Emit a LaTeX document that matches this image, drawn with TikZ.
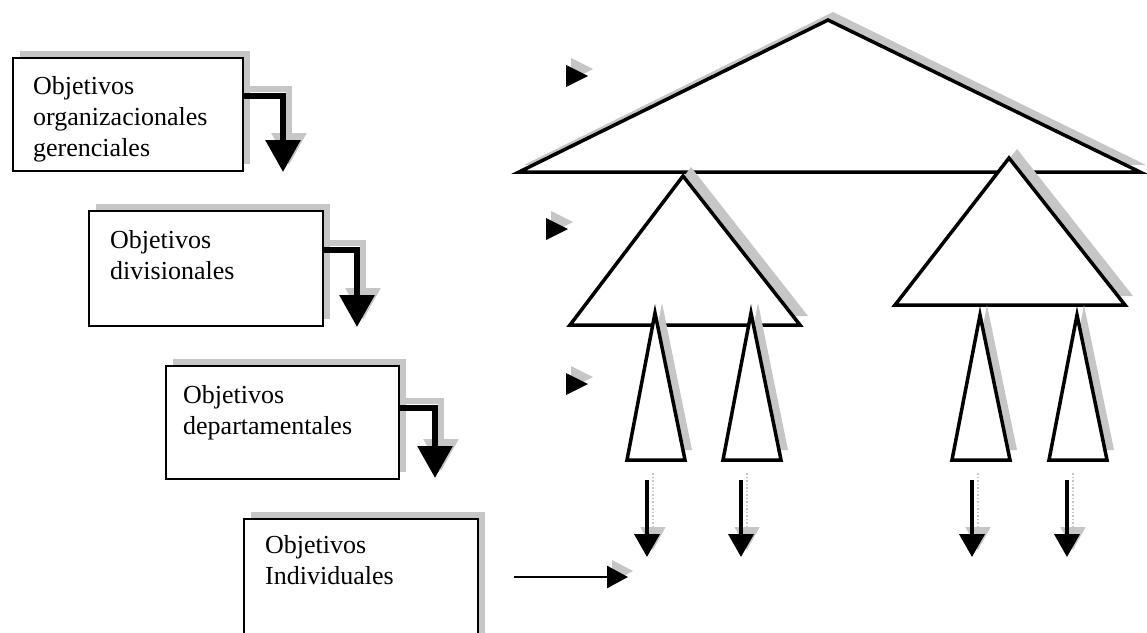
\documentclass[tikz,border=0pt]{standalone}
\usepackage{fontspec}
\setmainfont{Liberation Serif}
\usetikzlibrary{arrows.meta,positioning,shadows}
\newcommand{\shadeColor}{gray!45}
\newcommand{\thinBase}{460}

\begin{document}
\begin{tikzpicture}[x=1pt,y=-1pt,
	box/.style={draw, line width=2.4pt, fill=white, anchor=north west, inner sep=0pt,
		drop shadow={shadow xshift=7pt, shadow yshift=7pt, fill=\shadeColor, opacity=1}},
	lbl/.style={font=\fontsize{26}{31}\selectfont, align=left, inner sep=0pt},
	tri/.style={draw, line width=3.5pt, fill=white},
	elbow/.style={line width=6pt, -{Triangle[width=34pt,length=32pt]}},
	downarrow/.style={line width=4pt, -{Triangle[width=25pt,length=23pt]}},
	sidearrow/.style={line width=2.5pt, -{Triangle[width=22pt,length=21pt]}},
	shadowcopy/.style={\shadeColor, transform canvas={xshift=6pt,yshift=7pt}}]

	\useasboundingbox (0,0) rectangle (1147,632);

	% boxes on the left
	\node[box, minimum width=230, minimum height=113] (b1) at (12,57) {};
	\node[box, minimum width=234, minimum height=115] (b2) at (88,210) {};
	\node[box, minimum width=233, minimum height=113] (b3) at (165,365) {};
	\node[box, minimum width=234, minimum height=125] (b4) at (243,518) {};

	\node[lbl, below right=19pt and 21pt of b1.north west] (l1) {Objetivos\\organizacionales\\gerenciales};
	\node[lbl, below right=20pt and 22pt of b2.north west] (l2) {Objetivos\\divisionales};
	\node[lbl, below right=20pt and 18pt of b3.north west] (l3) {Objetivos\\departamentales};
	\node[lbl, below right=17pt and 22pt of b4.north west] (l4) {Objetivos\\Individuales};

	% elbow arrows between the boxes
	\coordinate (t1) at (283,172);
	\coordinate (t2) at (357,327);
	\coordinate (t3) at (435,478);
	\draw[elbow, shadowcopy] ([yshift=-39pt]b1.north east) -| (t1);
	\draw[elbow] ([yshift=-39pt]b1.north east) -| (t1);
	\draw[elbow, shadowcopy] ([yshift=-40pt]b2.north east) -| (t2);
	\draw[elbow] ([yshift=-40pt]b2.north east) -| (t2);
	\draw[elbow, shadowcopy] ([yshift=-43pt]b3.north east) -| (t3);
	\draw[elbow] ([yshift=-43pt]b3.north east) -| (t3);

	% level markers
	\foreach \mx/\my in {577/76, 557/229, 577/384}
	{
		\fill[\shadeColor] (\mx-6,\my-18) -- ++(22,11) -- ++(-22,11) -- cycle;
		\fill (\mx-11,\my-11) -- ++(22,11) -- ++(-22,11) -- cycle;
	}
	\coordinate (ia) at (628,577);
	\fill[\shadeColor] (612,560) -- ++(21,11) -- ++(-21,11) -- cycle;
	\draw[sidearrow] ([xshift=35pt,yshift=-59pt]b4.north east) -- (ia);

	% organisation pyramid
	\fill[\shadeColor] (524,165) -- (833,12) -- (1146,165) -- cycle;
	\draw[tri] (519,172) -- (828,20) -- (1140,172) -- cycle;

	\foreach \ax/\ay/\bl/\br/\by in {683/176/570/800/325, 1009/158/895/1125/305}
	{
		\fill[\shadeColor] (\ax+8,\ay-9) -- (\br+8,\by-9) -- (\bl+8,\by-9) -- cycle;
		\draw[tri] (\ax,\ay) -- (\br,\by) -- (\bl,\by) -- cycle;
	}

	\foreach \ax/\ay in {655/313, 751/313, 980/315, 1077/315}
	{
		\fill[\shadeColor] (\ax+7,\ay-10) -- (\ax+37,\thinBase-10) -- (\ax-21,\thinBase-10) -- cycle;
		\draw[tri] (\ax,\ay) -- (\ax+30,\thinBase) -- (\ax-28,\thinBase) -- cycle;
	}

	% arrows under the units
	\foreach \dx in {647,741,972,1067}
	{
		\coordinate (ds\dx) at (\dx,480);
		\coordinate (de\dx) at (\dx,557);
		\draw[downarrow, shadowcopy, line width=1.5pt, dotted] (ds\dx) -- (de\dx);
		\draw[downarrow] (ds\dx) -- (de\dx);
	}
\end{tikzpicture}
\end{document}
